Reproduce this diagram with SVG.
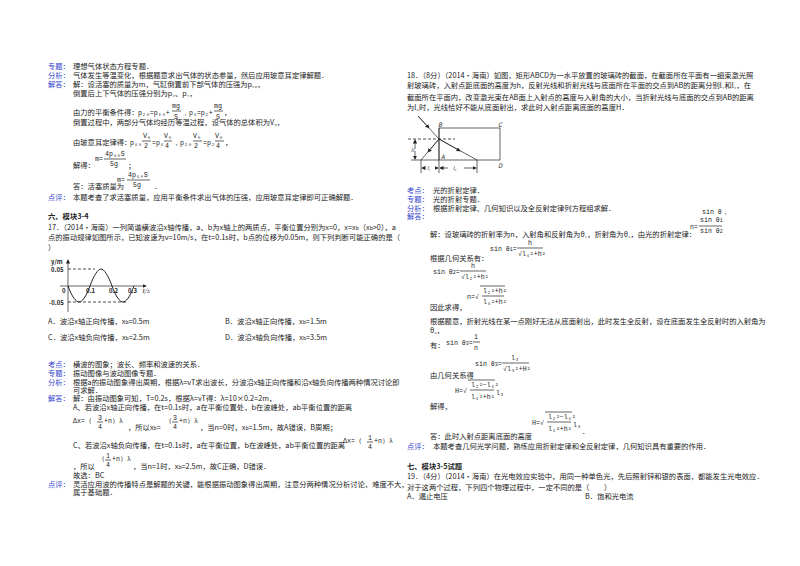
<svg xmlns="http://www.w3.org/2000/svg" width="800" height="566" viewBox="0 0 800 566">
<style>
text{font-family:"Noto Sans CJK SC","Liberation Serif",serif;font-size:7.3px;fill:#222}
.l{fill:#3344cc}
.h{font-weight:bold}
.f{font-family:"Liberation Mono",monospace;font-size:6.6px}
.s{font-size:5px}
.ln{stroke:#222;stroke-width:0.7;fill:none}
.d{stroke:#222;stroke-width:0.8;stroke-dasharray:3 2;fill:none}
</style>
<defs><marker id="ar" markerWidth="6" markerHeight="6" refX="5" refY="3" orient="auto"><path d="M0,0L6,3L0,6z" fill="#222"/></marker></defs>
<rect width="800" height="566" fill="#fff"/>
<g id="left-top">
<text x="48" y="69" class="l">专题：</text><text x="73" y="69">理想气体状态方程专题．</text>
<text x="48" y="78" class="l">分析：</text><text x="73" y="78">气体发生等温变化，根据题意求出气体的状态参量，然后应用玻意耳定律解题．</text>
<text x="48" y="87" class="l">解答：</text><text x="73" y="87">解：设活塞的质量为m，气缸倒置前下部气体的压强为p₂₀，</text>
<text x="73" y="96">倒置后上下气体的压强分别为p₂、p₁，</text>
<text x="73" y="115">由力的平衡条件得：</text>
<text x="138" y="115" class="f">p₂₀=p₁₀+</text><line x1="172" y1="111" x2="181" y2="111" class="ln"/><text x="172" y="108" class="f">mg</text><text x="174" y="119" class="f">S</text><text x="182" y="115" class="f">，p₁=p₂+</text><line x1="214" y1="111" x2="223" y2="111" class="ln"/><text x="214" y="108" class="f">mg</text><text x="216" y="119" class="f">S</text><text x="224" y="115">，</text>
<text x="73" y="125">倒置过程中，两部分气体均经历等温过程，设气体的总体积为V₀，</text>
<text x="73" y="145">由玻意耳定律得：</text>
<text x="130" y="145" class="f">p₁₀</text><line x1="142" y1="141" x2="151" y2="141" class="ln"/><text x="143" y="138" class="f">V₀</text><text x="144" y="148" class="f">2</text><text x="152" y="145" class="f">=p₁</text><line x1="164" y1="141" x2="172" y2="141" class="ln"/><text x="164" y="138" class="f">V₀</text><text x="165" y="148" class="f">4</text><text x="173" y="145" class="f">，p₂₀</text><line x1="193" y1="141" x2="202" y2="141" class="ln"/><text x="193" y="138" class="f">V₀</text><text x="194" y="148" class="f">2</text><text x="203" y="145" class="f">=p₂</text><line x1="215" y1="141" x2="224" y2="141" class="ln"/><text x="215" y="138" class="f">V₀</text><text x="216" y="148" class="f">4</text><text x="225" y="145">，</text>
<text x="73" y="168">解得：</text>
<text x="95" y="161" class="f">m=</text><line x1="104" y1="159" x2="126" y2="159" class="ln"/><text x="105" y="156" class="f">4p₁₀S</text><text x="110" y="166" class="f">5g</text><text x="128" y="168">；</text>
<text x="73" y="189">答：活塞质量为</text>
<text x="117" y="182" class="f">m=</text><line x1="127" y1="180" x2="150" y2="180" class="ln"/><text x="128" y="177" class="f">4p₁₀S</text><text x="133" y="187" class="f">5g</text><text x="154" y="189">．</text>
<text x="48" y="200" class="l">点评：</text><text x="73" y="200">本题考查了求活塞质量，应用平衡条件求出气体的压强，应用玻意耳定律即可正确解题．</text>
</g>
<g id="q17">
<text x="48" y="219" class="h">六、模块3-4</text>
<text x="48" y="230">17．（2014•海南）一列简谐横波沿x轴传播，a、b为x轴上的两质点，平衡位置分别为x=0，x=x<tspan class="s">b</tspan>（x<tspan class="s">b</tspan>>0），a</text>
<text x="48" y="240">点的振动规律如图所示，已知波速为v=10m/s，在t=0.1s时，b点的位移为0.05m，则下列判断可能正确的是（</text>
<text x="48" y="250">）</text>
</g>
<g id="graph17">
<line x1="68" y1="312" x2="68" y2="260" class="ln" marker-end="url(#ar)"/>
<line x1="60" y1="286" x2="146" y2="286" class="ln" marker-end="url(#ar)"/>
<text x="51" y="264" class="h" style="font-size:6px">y/m</text>
<text x="51" y="272" class="h" style="font-size:6px">0.05</text>
<text x="49" y="305" class="h" style="font-size:6px">-0.05</text>
<text x="62" y="293" class="h" style="font-size:6px">0</text>
<text x="86" y="293" class="h" style="font-size:6px">0.1</text>
<text x="109" y="293" class="h" style="font-size:6px">0.2</text>
<text x="128" y="293" class="h" style="font-size:6px">0.3</text>
<text x="142" y="293" style="font-size:6px;font-style:italic">t/s</text>
<line x1="68" y1="269" x2="95" y2="269" class="d"/>
<line x1="68" y1="302" x2="126" y2="302" class="d"/>
<path d="M68,286 C72,297 76,302 79,302 C82,302 86,297 90,286 C94,275 98,269 101,269 C104,269 108,275 112,286 C116,297 120,302 123,302 C126,302 130,297 134,286" class="ln" style="stroke-width:1"/>
</g>
<g id="q17-ans">
<text x="48" y="324">A．波沿x轴正向传播，x<tspan class="s">b</tspan>=0.5m</text><text x="225" y="324">B．波沿x轴正向传播，x<tspan class="s">b</tspan>=1.5m</text>
<text x="48" y="340">C．波沿x轴负向传播，x<tspan class="s">b</tspan>=2.5m</text><text x="225" y="340">D．波沿x轴负向传播，x<tspan class="s">b</tspan>=3.5m</text>
<text x="48" y="367" class="l">考点：</text><text x="73" y="367">横波的图象；波长、频率和波速的关系．</text>
<text x="48" y="376" class="l">专题：</text><text x="73" y="376">振动图像与波动图像专题．</text>
<text x="48" y="385" class="l">分析：</text><text x="73" y="385">根据a的振动图象得出周期，根据λ=vT求出波长，分波沿x轴正向传播和沿x轴负向传播两种情况讨论即</text>
<text x="73" y="393">可求解．</text>
<text x="48" y="401" class="l">解答：</text><text x="73" y="401">解：由振动图象可知，T=0.2s，根据λ=vT得：λ=10×0.2=2m，</text>
<text x="73" y="410">A、若波沿x轴正向传播，在t=0.1s时，a在平衡位置处，b在波峰处，ab平衡位置的距离</text>
<text x="73" y="423" class="f">Δx=（</text><text x="98" y="420" class="f">3</text><line x1="97" y1="422" x2="103" y2="422" class="ln"/><text x="98" y="429" class="f">4</text><text x="104" y="423" class="f">+n）λ</text>
<text x="128" y="430">，所以x<tspan class="s">b</tspan>=</text>
<text x="165" y="423" class="f">（</text><text x="173" y="420" class="f">3</text><line x1="172" y1="422" x2="178" y2="422" class="ln"/><text x="173" y="429" class="f">4</text><text x="179" y="423" class="f">+n）λ</text>
<text x="200" y="430">，当n=0时，x<tspan class="s">b</tspan>=1.5m，故A错误，B周期；</text>
<text x="73" y="448">C、若波沿x轴负向传播，在t=0.1s时，a在平衡位置，b在波峰处，ab平衡位置的距离</text>
<text x="343" y="443" class="f">Δx=（</text><text x="368" y="440" class="f">1</text><line x1="367" y1="442" x2="373" y2="442" class="ln"/><text x="368" y="449" class="f">4</text><text x="374" y="443" class="f">+n）λ</text>
<text x="73" y="469">，所以</text>
<text x="98" y="461" class="f">（</text><text x="106" y="458" class="f">1</text><line x1="105" y1="460" x2="111" y2="460" class="ln"/><text x="106" y="467" class="f">4</text><text x="112" y="461" class="f">+n）λ</text>
<text x="133" y="469">，当n=1时，x<tspan class="s">b</tspan>=2.5m，故C正确，D错误．</text>
<text x="73" y="478">故选：BC</text>
<text x="48" y="487" class="l">点评：</text><text x="73" y="487">灵活应用波的传播特点是解题的关键，能根据振动图象得出周期，注意分两种情况分析讨论，难度不大，</text>
<text x="73" y="495">属于基础题．</text>
</g>
<g id="q18">
<text x="407" y="78">18．（8分）（2014•海南）如图，矩形ABCD为一水平放置的玻璃砖的截面，在截面所在平面有一细束激光照</text>
<text x="407" y="88">射玻璃砖，入射点距底面的高度为h，反射光线和折射光线与底面所在平面的交点到AB的距离分别l₁和l₂，在</text>
<text x="407" y="100">截面所在平面内，改变激光束在AB面上入射点的高度与入射角的大小，当折射光线与底面的交点到AB的距离</text>
<text x="407" y="110">为l₃时，光线恰好不能从底面射出，求此时入射点距离底面的高度H．</text>
</g>
<g id="fig18">
<rect x="439" y="128" width="61" height="32" class="ln"/>
<line x1="408" y1="139" x2="455" y2="139" class="d"/>
<line x1="418" y1="116" x2="439" y2="139" class="ln"/><line x1="418" y1="116" x2="429" y2="128" class="ln" marker-end="url(#ar)"/>
<line x1="439" y1="139" x2="477" y2="160" class="ln"/><line x1="439" y1="139" x2="460" y2="151" class="ln" marker-end="url(#ar)"/>
<line x1="439" y1="139" x2="421" y2="160" class="ln"/><line x1="439" y1="139" x2="428" y2="152" class="ln" marker-end="url(#ar)"/>
<line x1="411" y1="160" x2="439" y2="160" class="ln"/>
<line x1="415" y1="149" x2="415" y2="140" class="ln" marker-end="url(#ar)"/><line x1="415" y1="151" x2="415" y2="159" class="ln" marker-end="url(#ar)"/>
<text x="411" y="152" style="font-size:5px;font-style:italic">h</text>
<line x1="421" y1="160" x2="421" y2="173" class="ln"/><line x1="439" y1="128" x2="439" y2="173" class="ln"/><line x1="477" y1="160" x2="477" y2="173" class="ln"/>
<line x1="425" y1="168" x2="422" y2="168" class="ln" marker-end="url(#ar)"/><line x1="435" y1="168" x2="438" y2="168" class="ln" marker-end="url(#ar)"/>
<line x1="448" y1="168" x2="440" y2="168" class="ln" marker-end="url(#ar)"/><line x1="464" y1="168" x2="476" y2="168" class="ln" marker-end="url(#ar)"/>
<text x="427" y="170" style="font-size:5px;font-style:italic">l₁</text><text x="453" y="170" style="font-size:5px;font-style:italic">l₂</text>
<text x="438" y="127" style="font-size:6px;font-style:italic">B</text><text x="498" y="127" style="font-size:6px;font-style:italic">C</text>
<text x="441" y="159" style="font-size:6px;font-style:italic">A</text><text x="498" y="168" style="font-size:6px;font-style:italic">D</text>
</g>
<g id="q18-ans">
<text x="407" y="193" class="l">考点：</text><text x="433" y="193">光的折射定律．</text>
<text x="407" y="202" class="l">专题：</text><text x="433" y="202">光的折射专题．</text>
<text x="407" y="211" class="l">分析：</text><text x="433" y="211">根据折射定律、几何知识以及全反射定律列方程组求解．</text>
<text x="407" y="219" class="l">解答：</text>
<text x="702" y="214" class="f">sin θ，</text>
<text x="690" y="229" class="f">n=</text><line x1="699" y1="226" x2="722" y2="226" class="ln"/><text x="700" y="222" class="f">sin θ<tspan class="s">1</tspan></text><text x="700" y="233" class="f">sin θ<tspan class="s">2</tspan></text>
<text x="430" y="237">解：设玻璃砖的折射率为n，入射角和反射角为θ₁，折射角为θ₂，由光的折射定律：</text>
<text x="490" y="251" class="f">sin θ<tspan class="s">1</tspan>=</text><line x1="517" y1="248" x2="543" y2="248" class="ln"/><text x="528" y="245" class="f">h</text><text x="518" y="256" class="f">√l₁²+h²</text>
<text x="430" y="261">根据几何关系有：</text>
<text x="433" y="274" class="f">sin θ<tspan class="s">2</tspan>=</text><line x1="460" y1="271" x2="486" y2="271" class="ln"/><text x="471" y="268" class="f">h</text><text x="461" y="279" class="f">√l₂²+h²</text>
<text x="467" y="299" class="f">n=√</text><line x1="482" y1="296" x2="504" y2="296" class="ln"/><path d="M480,286H505" class="ln"/><text x="483" y="293" class="f">l₂²+h²</text><text x="483" y="304" class="f">l₁²+h²</text>
<text x="430" y="310">因此求得，</text>
<text x="430" y="324">根据题意，折射光线在某一点刚好无法从底面射出，此时发生全反射，设在底面发生全反射时的入射角为</text>
<text x="430" y="333">θ₃，</text>
<text x="430" y="348">有：</text>
<text x="446" y="345" class="f">sin θ<tspan class="s">3</tspan>=</text><line x1="473" y1="342" x2="480" y2="342" class="ln"/><text x="474" y="339" class="f">1</text><text x="474" y="350" class="f">n</text>
<text x="475" y="366" class="f">sin θ<tspan class="s">3</tspan>=</text><line x1="502" y1="363" x2="529" y2="363" class="ln"/><text x="511" y="360" class="f">l₃</text><text x="503" y="371" class="f">√l₃²+H²</text>
<text x="430" y="378">由几何关系得</text>
<text x="455" y="393" class="f">H=√</text><line x1="470" y1="390" x2="494" y2="390" class="ln"/><path d="M468,380H495" class="ln"/><text x="471" y="387" class="f">l₂²−l₁²</text><text x="471" y="399" class="f">l₁²+h²</text><text x="496" y="395" class="f">l₃</text>
<text x="430" y="409">解得，</text>
<text x="532" y="425" class="f">H=√</text><line x1="547" y1="422" x2="571" y2="422" class="ln"/><path d="M545,412H572" class="ln"/><text x="548" y="419" class="f">l₂²−l₁²</text><text x="548" y="431" class="f">l₁²+h²</text><text x="573" y="427" class="f">l₃</text><text x="582" y="434">．</text>
<text x="430" y="439">答：此时入射点距离底面的高度</text>
<text x="407" y="449" class="l">点评：</text><text x="433" y="449">本题考查几何光学问题，熟练应用折射定律和全反射定律，几何知识具有重要的作用．</text>
</g>
<g id="q19">
<text x="407" y="469" class="h">七、模块3-5试题</text>
<text x="407" y="479">19．（4分）（2014•海南）在光电效应实验中，用同一种单色光，先后照射锌和银的表面，都能发生光电效应．</text>
<text x="407" y="490">对于这两个过程，下列四个物理过程中，一定不同的是（　　）</text>
<text x="407" y="499">A．遏止电压</text><text x="585" y="499">B．饱和光电流</text>
</g>
</svg>
